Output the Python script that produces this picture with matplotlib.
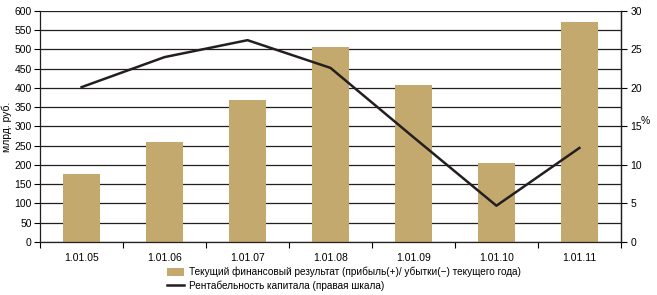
import numpy as np
import matplotlib
matplotlib.use('Agg')
from matplotlib import pyplot as plt

plt.rcParams['font.family'] = ['Liberation Sans', 'DejaVu Sans']

dates = ['1.01.05', '1.01.06', '1.01.07', '1.01.08', '1.01.09', '1.01.10', '1.01.11']
profit = [177, 260, 369, 506, 408, 205, 571]
roe = [20.1, 24.0, 26.2, 22.6, 13.6, 4.7, 12.2]

bar_color = '#c4a96f'
line_color = '#231f20'

fig = plt.figure(figsize=(6.57, 2.95), dpi=100)
ax = fig.add_axes([0.061, 0.18, 0.884, 0.783])
x = np.arange(len(dates))

ax.set_axisbelow(True)
ax.yaxis.grid(True, color=line_color, linewidth=0.9)
bars = ax.bar(x, profit, width=0.45, color=bar_color, zorder=2,
              label='Текущий финансовый результат (прибыль(+)/ убытки(\u2212) текущего года)')
ax.set_ylim(0, 600)
ax.set_yticks(range(0, 601, 50))
ax.set_xlim(-0.5, len(dates) - 0.5)
ax.set_xticks(x)
ax.set_xticklabels(dates)
ax.set_xticks(np.arange(-0.5, len(dates), 1), minor=True)
ax.tick_params(axis='x', which='major', length=0, pad=8)
ax.tick_params(axis='x', which='minor', length=4, width=0.8, direction='out')
ax.tick_params(axis='y', length=4, width=0.8, direction='out', pad=2)
ax.tick_params(labelsize=7.5)
ax.set_ylabel('млрд. руб.', fontsize=7.5, labelpad=2)
ax.spines['top'].set_visible(False)
for s in ax.spines.values():
    s.set_color(line_color)
    s.set_linewidth(0.9)

ax2 = ax.twinx()
line, = ax2.plot(x, roe, color=line_color, linewidth=1.8,
                 label='Рентабельность капитала (правая шкала)')
ax2.set_ylim(0, 30)
ax2.set_yticks(range(0, 31, 5))
ax2.tick_params(axis='y', length=4, width=0.8, direction='out', labelsize=7.5, pad=3)
ax2.spines['top'].set_visible(False)
ax2.spines['left'].set_visible(False)
ax2.spines['bottom'].set_visible(False)
ax2.spines['right'].set_color(line_color)
ax2.spines['right'].set_linewidth(0.9)
fig.text(0.982, 0.59, '%', fontsize=7.5, ha='center', va='center')

fig.legend([bars, line], [bars.get_label(), line.get_label()],
           loc='upper left', bbox_to_anchor=(0.247, 0.112), frameon=False,
           fontsize=7.2, handlelength=1.7, handleheight=0.8,
           labelspacing=0.3, borderpad=0, handletextpad=0.5)

fig.savefig('out.png', dpi=100)
